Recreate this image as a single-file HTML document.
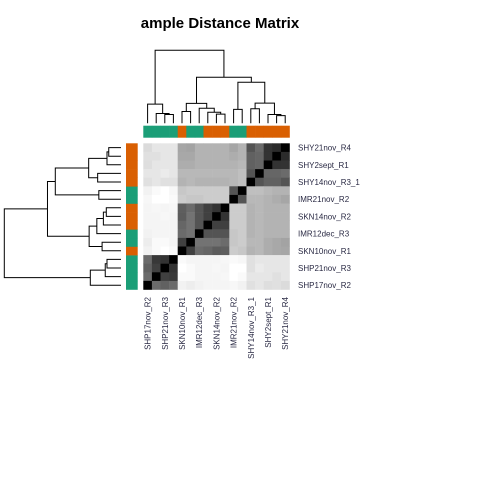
<!DOCTYPE html>
<html><head><meta charset="utf-8"><style>
html,body{margin:0;padding:0;background:#fff;}
svg{display:block;font-family:"Liberation Sans",Arial,sans-serif;}
</style></head><body>
<svg id="chart" width="480" height="480" viewBox="0 0 480 480" xmlns="http://www.w3.org/2000/svg">
<rect width="480" height="480" fill="#fff"/>
<text x="220" y="28" font-size="15" font-weight="bold" text-anchor="middle" fill="#000">ample Distance Matrix</text>
<g id="dendro-top"></g>
<g id="dendro-left"></g>
<g id="colbar"></g>
<g id="rowbar"></g>
<g id="cells"></g>
<g id="rowlabels"></g>
<g id="collabels"></g>
</svg>
<script>
const sampleNames = ["SHP17nov_R2","","SHP21nov_R3","","SKN10nov_R1","","IMR12dec_R3","","SKN14nov_R2","","IMR21nov_R2","","SHY14nov_R3_1","","SHY2sept_R1","","SHY21nov_R4"];
const sampleGroups = [0,0,0,0,1,0,0,1,1,1,0,0,1,1,1,1,1];
const groupColors = ["#1B9E77","#D95F02"];
const distances = [
[0,.42,.38,.42,.95,.93,.95,.96,.96,.96,.97,.95,.88,.9,.87,.88,.86],
[.42,0,.25,.22,.98,.98,.96,.96,.96,.97,1,.98,.9,.9,.9,.88,.9],
[.38,.25,0,.2,1,.98,.96,.96,.97,.96,1,1,.88,.92,.9,.9,.9],
[.42,.22,.2,0,.98,.96,.96,.96,.96,.97,.98,.97,.88,.9,.9,.9,.9],
[.95,.98,1,.98,0,.25,.42,.4,.36,.37,.8,.78,.7,.72,.68,.66,.65],
[.93,.98,.98,.96,.25,0,.45,.45,.45,.42,.78,.8,.72,.72,.68,.66,.64],
[.95,.96,.96,.96,.42,.45,0,.33,.33,.33,.78,.8,.7,.72,.7,.7,.7],
[.96,.96,.96,.96,.4,.45,.33,0,.25,.25,.8,.8,.7,.72,.7,.7,.7],
[.96,.96,.97,.96,.36,.45,.33,.25,0,.2,.8,.8,.7,.72,.7,.7,.7],
[.96,.97,.96,.97,.37,.42,.33,.25,.2,0,.8,.8,.7,.72,.7,.7,.7],
[.97,1,1,.98,.8,.78,.78,.8,.8,.8,0,.33,.72,.72,.7,.68,.65],
[.95,.98,1,.97,.78,.8,.8,.8,.8,.8,.33,0,.75,.75,.72,.7,.7],
[.88,.9,.88,.88,.7,.72,.7,.7,.7,.7,.72,.75,0,.33,.38,.38,.33],
[.9,.9,.92,.9,.72,.72,.72,.72,.72,.72,.72,.75,.33,0,.4,.4,.42],
[.87,.9,.9,.9,.68,.68,.7,.7,.7,.7,.7,.72,.38,.4,0,.2,.2],
[.88,.88,.9,.9,.66,.66,.7,.7,.7,.7,.68,.7,.38,.4,.2,0,.17],
[.86,.9,.9,.9,.65,.64,.7,.7,.7,.7,.65,.7,.33,.42,.2,.17,0]
];
// merges: leaf index >= 0, cluster j encoded as -(j+1)
const merges = [[15,16],[14,-1],[2,3],[1,-3],[8,9],[7,-5],[4,5],[10,11],[12,13],[6,-6],[0,-4],[-7,-10],[-9,-2],[-8,-13],[-12,-14],[-11,-15]];
const mergeHeights = [.105,.12,.12,.135,.126,.151,.162,.19,.2,.207,.263,.273,.277,.563,.63,1.0];

const NS="http://www.w3.org/2000/svg";
const N=sampleNames.length, X0=143.3, Y0=143.3, CELL=146.2/N;
const colX=i=>X0+CELL*(i+0.5);
const rowOfCol=i=>N-1-i;
const rowY=r=>Y0+CELL*(r+0.5);
function mk(tag,attrs,parent){const e=document.createElementNS(NS,tag);for(const k in attrs)e.setAttribute(k,attrs[k]);parent.appendChild(e);return e;}
const gray=v=>{const c=Math.round(Math.max(0,Math.min(1,v))*255);return `rgb(${c},${c},${c})`;};

const cellsG=document.getElementById('cells');
for(let r=0;r<N;r++){for(let c=0;c<N;c++){
  const i=rowOfCol(r);
  const el=mk('rect',{x:X0+c*CELL,y:Y0+r*CELL,width:CELL+0.3,height:CELL+0.3,fill:gray(distances[i][c])},cellsG);
  
  
}}
const colbarG=document.getElementById('colbar'), rowbarG=document.getElementById('rowbar');
for(let c=0;c<N;c++){
  const el=mk('rect',{x:X0+c*CELL,y:125.7,width:CELL+0.3,height:12,fill:groupColors[sampleGroups[c]]},colbarG);
  
  
  const r=rowOfCol(c);
  const el2=mk('rect',{x:126,y:Y0+r*CELL,width:11.7,height:CELL+0.3,fill:groupColors[sampleGroups[c]]},rowbarG);
  
  
}
const rlG=document.getElementById('rowlabels'), clG=document.getElementById('collabels');
for(let c=0;c<N;c++){
  if(!sampleNames[c])continue;
  const t=mk('text',{x:298,y:rowY(rowOfCol(c))+3,'font-size':8,fill:'#2a2a44'},rlG);
  t.textContent=sampleNames[c];
  
  
  const x=colX(c)+3, y=297;
  const t2=mk('text',{x:x,y:y,'font-size':8,fill:'#2a2a44','text-anchor':'end',transform:`rotate(-90 ${x} ${y})`},clG);
  t2.textContent=sampleNames[c];
  
  
}
const clusterPos=[];
function pos(node){return node>=0?node:clusterPos[-node-1];}
function ht(node){return node>=0?0:mergeHeights[-node-1];}
merges.forEach((m,j)=>{clusterPos[j]=(pos(m[0])+pos(m[1]))/2;});
const topG=document.getElementById('dendro-top'), leftG=document.getElementById('dendro-left');
const topY=h=>123.3-h*73, leftX=h=>121-h*116.7;
const leafPosTop=p=>colX(p), leafPosLeft=p=>rowY(N-1-p);
merges.forEach((m,j)=>{
  const h=mergeHeights[j];
  const a=pos(m[0]), b=pos(m[1]), ha=ht(m[0]), hb=ht(m[1]);
  const xa=leafPosTop(a), xb=leafPosTop(b);
  const p=mk('path',{d:`M${xa},${topY(ha)}V${topY(h)}H${xb}V${topY(hb)}`,fill:'none',stroke:'#000','stroke-width':1},topG);
  
  
  const ya=leafPosLeft(a), yb=leafPosLeft(b);
  const q=mk('path',{d:`M${leftX(ha)},${ya}H${leftX(h)}V${yb}H${leftX(hb)}`,fill:'none',stroke:'#000','stroke-width':1},leftG);
  
  
});
</script>
</body></html>
